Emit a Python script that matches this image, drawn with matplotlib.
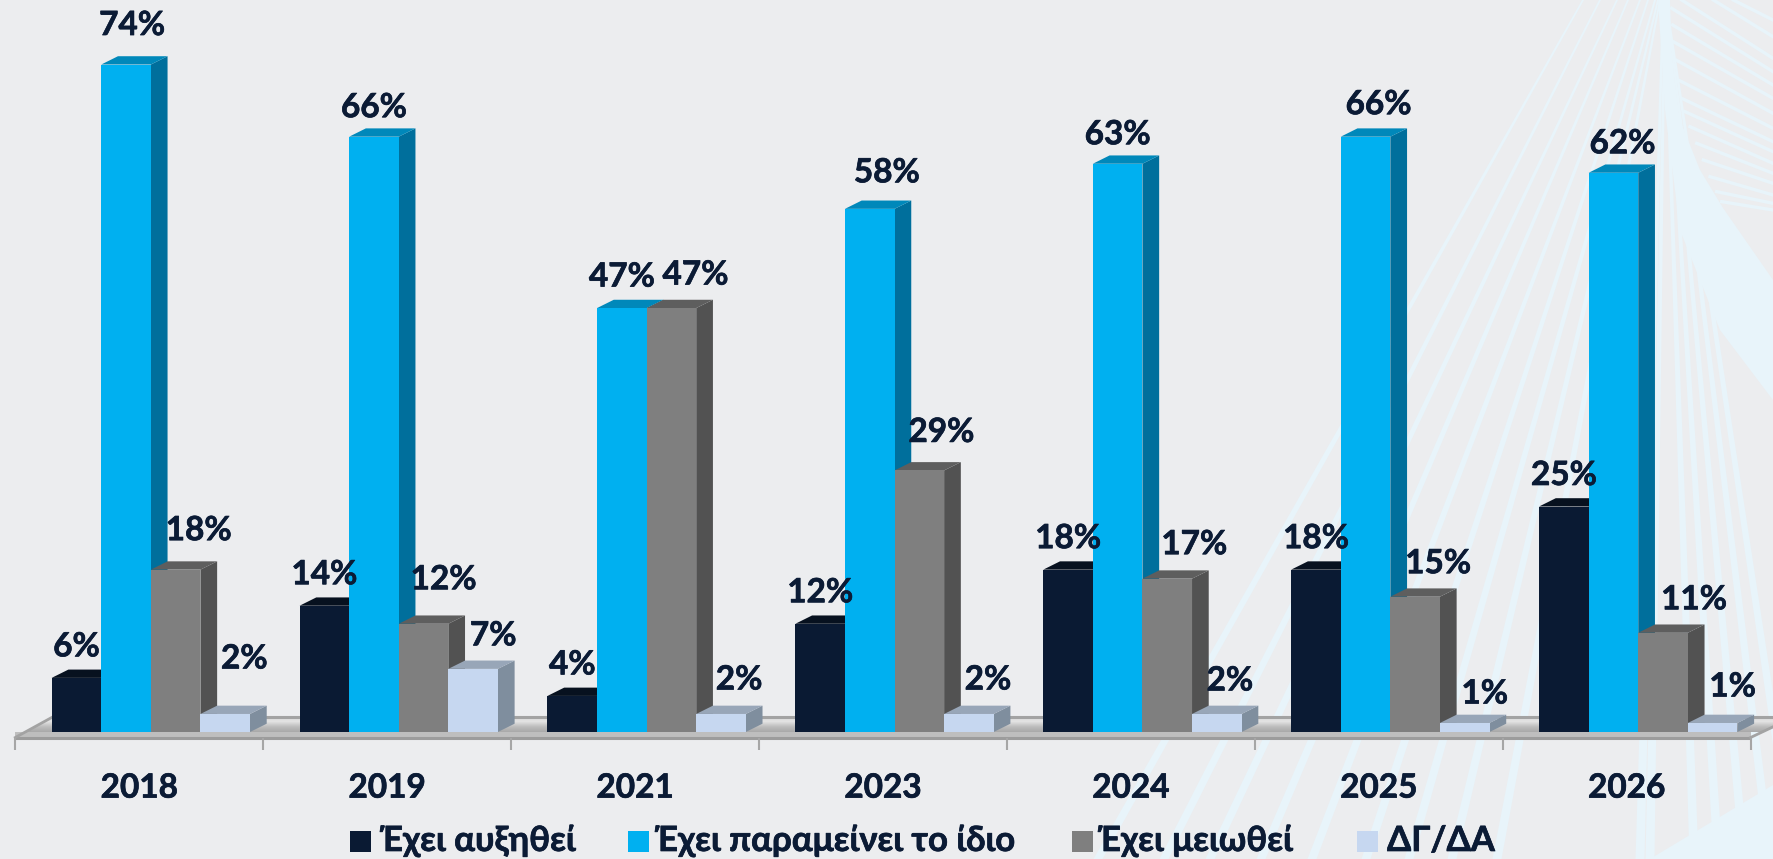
import matplotlib
matplotlib.use("Agg")
import matplotlib.pyplot as plt
import matplotlib.patheffects as pe
import numpy as np
from matplotlib.patches import Polygon, Rectangle
from matplotlib.transforms import Affine2D

# ---------- data ----------
years = ["2018", "2019", "2021", "2023", "2024", "2025", "2026"]
series_names = ["Έχει αυξηθεί", "Έχει παραμείνει το ίδιο", "Έχει μειωθεί", "ΔΓ/ΔΑ"]
increased = [6, 14, 4, 12, 18, 18, 25]
same = [74, 66, 47, 58, 63, 66, 62]
decreased = [18, 12, 47, 29, 17, 15, 11]
dk_da = [2, 7, 2, 2, 2, 1, 1]

# ---------- style ----------
FRONT = ["#0A1A33", "#00B0F0", "#7F7F7F", "#C6D7F0"]
TOP = ["#07111F", "#0088BA", "#5E5E5E", "#98A6B8"]
SIDE = ["#08162A", "#006F9C", "#525252", "#7F8E9E"]
BG = "#ECEDEF"
INK = "#0B1B35"
FONT = ["Lato", "DejaVu Sans"]
FS = 24
FS_LEG = 25
HEAVY = [pe.withStroke(linewidth=0.5, foreground=INK)]

# label offsets in pixels from each bar's top centre (dx right, dy up)
label_offsets = [
    [(0, 31), (0, 31), (0, 31), (0, 31), (0, 31), (0, 31), (0, 31)],
    [(6, 39), (0, 29), (0, 31), (17, 36), (0, 29), (13, 32), (9, 29)],
    [(23, 39), (20, 44), (24, 33), (22, 38), (27, 34), (23, 33), (31, 33)],
    [(19, 55), (20, 33), (18, 34), (19, 34), (13, 33), (20, 29), (20, 36)],
]

W, H = 1773, 859
PX_X, PX_Y = 247.9, 9.02       # pixels per category / per percent
X0, Y0 = 15.3, 732.0           # pixel of category edge 0 and of 0 %
BAR_W = 0.2
BAR_START = 0.1468
DX, DY = 16.7 / PX_X, 8.3 / PX_Y

fig = plt.figure(figsize=(W / 100, H / 100), dpi=100, facecolor=BG)
ax = fig.add_axes([0, 0, 1, 1], facecolor="none")
px = Affine2D().scale(1, -1).translate(0, H)

# ---------- decorative background fan (pixel space), strands widen downwards ----------
DECOR = "#E8F4FA"
fan_top = [1583, 1600, 1617, 1628, 1640, 1648, 1655, 1658, 1660, 1663, 1665, 1665, 1666, 1666, 1666, 1666]
fan_bot = [1098, 1164, 1210, 1261, 1312, 1366, 1409, 1452, 1497, 1640, 1650, 1694, 1718, 1744, 1770, 1794]
for a, b in zip(fan_top, fan_bot):
    ax.add_patch(Polygon([(a - 1, 0), (a + 1, 0), (b + 4.5, H), (b - 4.5, H)], closed=True, fc=DECOR,
                         ec="none", transform=px, zorder=0.5))
ray_start = [(515, 25), (518, 75), (520, 125), (528, 180), (535, 240), (545, 295), (555, 335),
             (570, 380), (590, 430), (610, 480), (630, 530), (650, 575), (665, 605),
             (545, 0), (640, 0), (700, 0)]
ray_end = [215, 255, 295, 340, 385, 425, 455, 490, 520, 550, 585, 610, 630, 175, 110, 60]
for (sx, sy), ey in zip(ray_start, ray_end):
    ax.plot([1500 + sx / 3, 1773], [sy / 3, ey / 3], color=DECOR, lw=2.4, transform=px, zorder=0.5)
ax.add_patch(Polygon([(1658, 0), (1670, 0), (1672, 60), (1680, 120), (1700, 170), (1723, 208),
                      (1773, 280), (1773, 400), (1720, 330), (1680, 230), (1665, 110)],
                     closed=True, fc=DECOR, ec="none", transform=px, zorder=0.6))
ax.add_patch(Polygon([(1650, 859), (1773, 785), (1773, 859)], closed=True, fc=DECOR, ec="none",
                     transform=px, zorder=0.6))

# ---------- limits ----------
xlim = (-X0 / PX_X, (W - X0) / PX_X)
ylim = ((Y0 - H) / PX_Y, Y0 / PX_Y)

# ---------- floor ----------
rim = -5.5 / PX_Y
back = 15.3 / PX_Y
floor_dx = 44 / PX_X
floor = Polygon([(0, rim), (7, rim), (7 + floor_dx, back), (floor_dx * 0.86, back)], closed=True,
                fc="none", ec="none", transform=ax.transData, zorder=1)
ax.add_patch(floor)
grad = np.linspace(0, 1, 64).reshape(-1, 1)
cmap = matplotlib.colors.LinearSegmentedColormap.from_list("f", ["#A9A9A9", "#BDBDBD", "#E4E4E4", "#D8D8D8"])
im = ax.imshow(grad, extent=(0, 7 + floor_dx, 0, back), origin="lower", aspect="auto", cmap=cmap,
               zorder=1, interpolation="bilinear")
im.set_clip_path(floor)
ax.fill_between([0, 7], rim, 0, color="#BEBEBE", lw=0, zorder=1.1)
ax.plot([0, 7], [rim, rim], color="#9C9C9C", lw=2.2, zorder=1.2, solid_capstyle="butt")
ax.plot([floor_dx * 0.86, 7 + floor_dx], [back, back], color="#A3A3A3", lw=2.2, zorder=1.2)
ax.plot([0, floor_dx * 0.86], [rim, back], color="#A3A3A3", lw=2.0, zorder=1.2)
ax.plot([7, 7 + floor_dx], [rim, back], color="#A3A3A3", lw=2.0, zorder=1.2)

# ---------- bars ----------
columns = [increased, same, decreased, dk_da]
for s, vals in enumerate(columns):
    z = 2 + s
    xs = np.arange(len(years)) + BAR_START + BAR_W * s
    ax.bar(xs, vals, width=BAR_W, align="edge", color=FRONT[s], lw=0, zorder=z + 0.5)
    for x, v in zip(xs, vals):
        ax.add_patch(Polygon([(x + BAR_W, 0), (x + BAR_W + DX, DY), (x + BAR_W + DX, v + DY), (x + BAR_W, v)],
                             closed=True, fc=SIDE[s], ec="none", zorder=z))
        ax.add_patch(Polygon([(x, v), (x + DX, v + DY), (x + BAR_W + DX, v + DY), (x + BAR_W, v)],
                             closed=True, fc=TOP[s], ec="none", zorder=z))

# ---------- data labels ----------
for s, vals in enumerate(columns):
    xs = np.arange(len(years)) + BAR_START + BAR_W * s + BAR_W / 2
    for x, v, (ox, oy) in zip(xs, vals, label_offsets[s]):
        ax.annotate(f"{v}%", xy=(x, v), xytext=(ox, oy), textcoords="offset pixels", ha="center",
                    va="center", fontsize=FS, fontweight="bold", color=INK, family=FONT, zorder=10,
                    path_effects=HEAVY)

# ---------- axis ----------
ax.set_xlim(xlim)
ax.set_ylim(ylim)
ax.spines[["top", "left", "right"]].set_visible(False)
ax.spines["bottom"].set_visible(False)
ax.yaxis.set_visible(False)
ax.xaxis.set_ticks_position("bottom")
ax.spines["bottom"].set_position(("data", rim))
ax.set_xticks(np.arange(len(years) + 1))
ax.set_xticklabels([])
ax.set_xticks(np.arange(len(years)) + 0.5, minor=True)
ax.set_xticklabels(years, minor=True, fontsize=FS, fontweight="bold", color=INK, family=FONT,
                   path_effects=HEAVY)
ax.tick_params(axis="x", which="major", length=8.6, width=1.5, color="#A6A6A6", direction="out")
ax.tick_params(axis="x", which="minor", length=0, pad=26)

# ---------- legend ----------
sw_x = [350, 628, 1072, 1357]
tx_x = [380, 655, 1098, 1387]
for name, col, a, b in zip(series_names, FRONT, sw_x, tx_x):
    ax.add_patch(Rectangle((a, 831), 21, 21, fc=col, ec="none", transform=px, zorder=5))
    ax.text(b, 841, name, transform=px, ha="left", va="center", fontsize=FS_LEG, fontweight="bold",
            color=INK, family=FONT, zorder=5, path_effects=HEAVY)

fig.savefig("out.png", dpi=100, facecolor=BG)
